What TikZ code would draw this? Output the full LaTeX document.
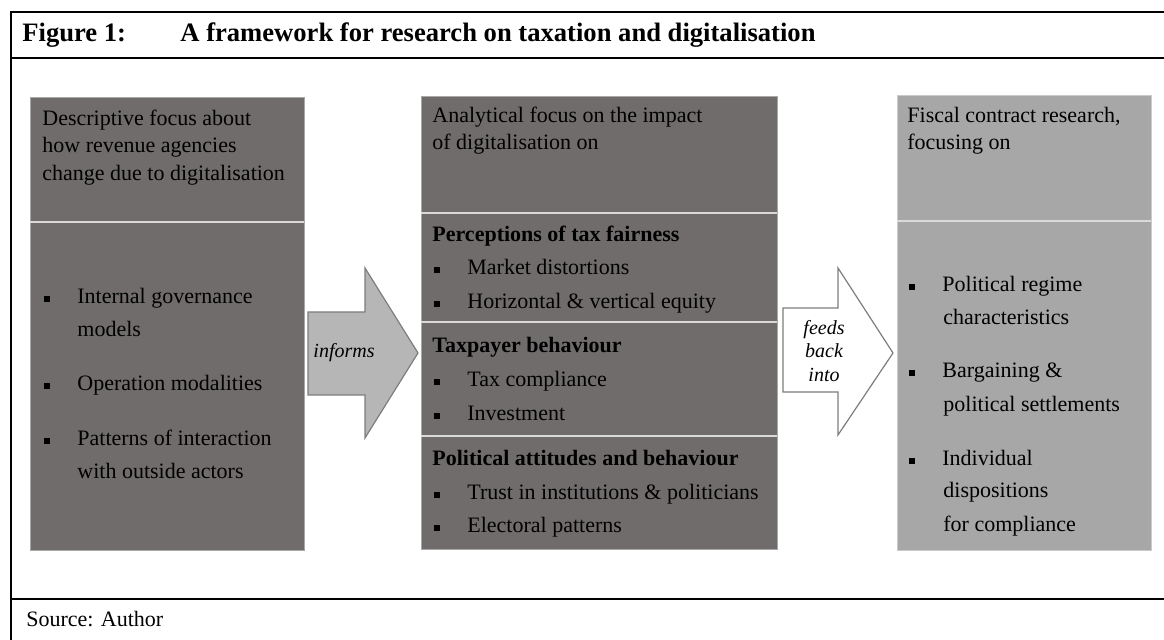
\documentclass[tikz,border=0pt]{standalone}
\usepackage{fontspec}
\setmainfont{Liberation Serif}
\definecolor{boxdark}{RGB}{112,108,108}
\definecolor{boxlight}{RGB}{167,167,167}
\definecolor{arrowfill}{RGB}{182,182,182}
\definecolor{arrowedge}{RGB}{125,125,125}
\definecolor{divider}{RGB}{218,218,218}
\newcommand{\sqbullet}{\makebox[16.5pt][l]{\rule[0.1em]{0.27em}{0.27em}}}

\begin{document}
\begin{tikzpicture}[x=0.5pt,y=-0.5pt,
  txt/.style={anchor=base west,inner sep=0pt,font=\fontsize{11}{13}\selectfont},
  hd/.style={txt,font=\fontsize{11}{13}\selectfont\bfseries},
  ttl/.style={txt,font=\fontsize{13.3}{16}\selectfont\bfseries},
  lbl/.style={anchor=base,inner sep=0pt,font=\fontsize{10}{12}\selectfont\itshape}]

\useasboundingbox (0,0) rectangle (1164,640);

\draw[line width=1pt] (1164,12) -- (11,12) -- (11,640);
\draw[line width=1pt] (11,58) -- (1164,58);
\draw[line width=1pt] (11,599) -- (1164,599);

\node[ttl] (fignum) at (22,42) {Figure 1:};
\node[ttl] (figtitle) at (180,42) {A framework for research on taxation and digitalisation};
\node[txt] (source) at (26,627) {Source: Author};

% left column
\fill[boxdark] (30,97) rectangle (304,550);
\draw[boxdark!60!white,line width=0.4pt] (30,97) rectangle (304,550);
\draw[divider,line width=0.6pt] (30,222) -- (304,222);

\node[txt] (desc1) at (42,126) {Descriptive focus about};
\node[txt] (desc2) at (42,153) {how revenue agencies};
\node[txt] (desc3) at (42,181) {change due to digitalisation};

\node[txt] (gov1) at (44,304) {\sqbullet Internal governance};
\node[txt] (gov2) at (77,337) {models};
\node[txt] (oper) at (44,391) {\sqbullet Operation modalities};
\node[txt] (patt1) at (44,446) {\sqbullet Patterns of interaction};
\node[txt] (patt2) at (77,479) {with outside actors};

% informs arrow
\filldraw[fill=arrowfill,draw=arrowedge,line width=0.6pt] (308,312) -- (365,312) -- (365,268) -- (418,353) -- (365,438) -- (365,395) -- (308,395) -- cycle;
\node[lbl] (informs) at (344,358) {informs};

% middle column
\fill[boxdark] (421,96) rectangle (777,549);
\draw[boxdark!60!white,line width=0.4pt] (421,96) rectangle (777,549);
\draw[divider,line width=0.6pt] (421,213) -- (777,213);
\draw[divider,line width=0.6pt] (421,322) -- (777,322);
\draw[divider,line width=0.6pt] (421,436) -- (777,436);

\node[txt] (anal1) at (432,123) {Analytical focus on the impact};
\node[txt] (anal2) at (432,150) {of digitalisation on};

\node[hd] (fair) at (432,242) {Perceptions of tax fairness};
\node[txt] (fair1) at (434,275) {\sqbullet Market distortions};
\node[txt] (fair2) at (434,309) {\sqbullet Horizontal \& vertical equity};

\node[hd] (behav) at (432,353) {Taxpayer behaviour};
\node[txt] (behav1) at (434,387) {\sqbullet Tax compliance};
\node[txt] (behav2) at (434,421) {\sqbullet Investment};

\node[hd] (polit) at (432,466) {Political attitudes and behaviour};
\node[txt] (polit1) at (434,500) {\sqbullet Trust in institutions \& politicians};
\node[txt] (polit2) at (434,533) {\sqbullet Electoral patterns};

% feeds back arrow
\filldraw[fill=white,draw=arrowedge,line width=0.6pt] (783,308) -- (838,308) -- (838,268) -- (893,353) -- (838,435) -- (838,392) -- (783,392) -- cycle;
\node[lbl] (feeds) at (824,335) {feeds};
\node[lbl] (back) at (824,358) {back};
\node[lbl] (into) at (824,382) {into};

% right column
\fill[boxlight] (897,95) rectangle (1151,550);
\draw[boxlight!60!white,line width=0.4pt] (897,95) rectangle (1151,550);
\draw[divider,line width=0.6pt] (897,221) -- (1151,221);

\node[txt] (fisc1) at (907,123) {Fiscal contract research,};
\node[txt] (fisc2) at (907,150) {focusing on};

\node[txt] (regime1) at (909,292) {\sqbullet Political regime};
\node[txt] (regime2) at (943,325) {characteristics};
\node[txt] (barg1) at (909,378) {\sqbullet Bargaining \&};
\node[txt] (barg2) at (943,412) {political settlements};
\node[txt] (indiv1) at (909,466) {\sqbullet Individual};
\node[txt] (indiv2) at (943,498) {dispositions};
\node[txt] (indiv3) at (943,532) {for compliance};

\end{tikzpicture}
\end{document}
